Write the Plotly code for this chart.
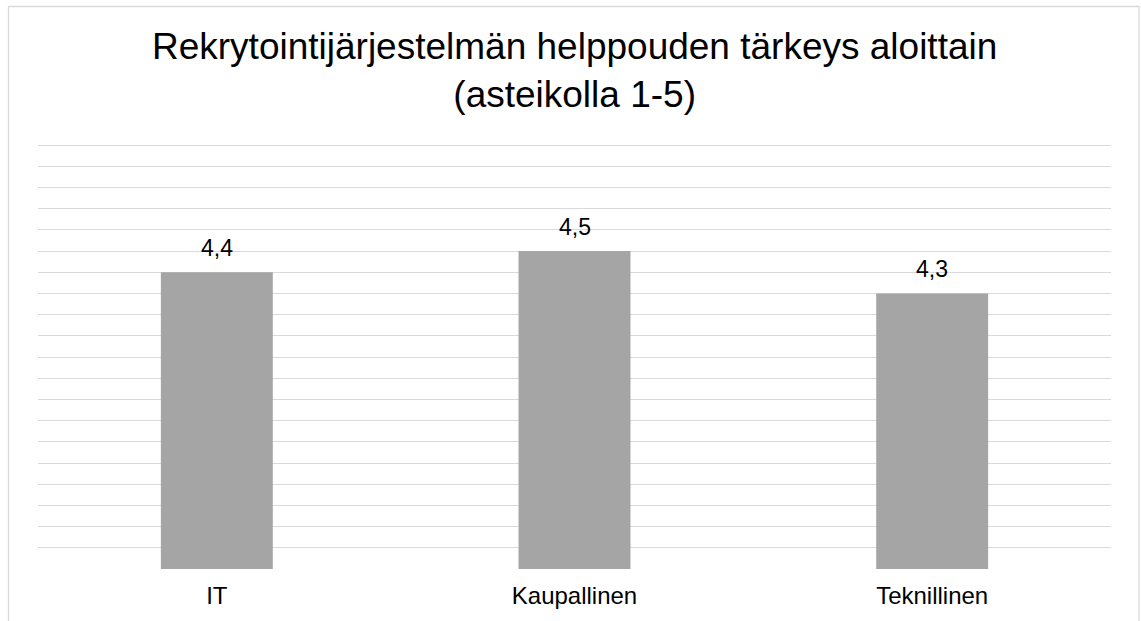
import plotly.graph_objects as go

categories = ["IT", "Kaupallinen", "Teknillinen"]
values = [4.4, 4.5, 4.3]
title_text = "Rekrytointijärjestelmän helppouden tärkeys aloittain<br>(asteikolla 1-5)"

W, H = 1141, 621
L, R, T, B = 38, 30, 143, 52
pw = W - L - R
ph = H - T - B

fig = go.Figure()
fig.add_trace(go.Bar(
    x=categories, y=values,
    marker=dict(color="#A5A5A5", line=dict(width=0)),
    width=0.313,
    hoverinfo="skip",
))

for c, v in zip(categories, values):
    fig.add_annotation(
        x=c, y=v, text=f"{v:.1f}".replace(".", ","),
        showarrow=False, yanchor="bottom", yshift=9,
        font=dict(family="Liberation Sans, Arial", size=23, color="#000000"),
    )

# title as annotation
fig.add_annotation(
    text=title_text, xref="paper", yref="paper",
    x=0.5, xanchor="center", y=(H - B - 24) / ph, yanchor="top",
    showarrow=False, align="center",
    font=dict(family="Liberation Sans, Arial", size=37, color="#000000"),
)

fig.add_shape(
    type="rect", xref="paper", yref="paper",
    x0=(8.5 - L) / pw, x1=(1139 - L) / pw,
    y0=-0.5, y1=(H - B - 6.5) / ph,
    line=dict(color="#D9D9D9", width=1.3), fillcolor="rgba(0,0,0,0)",
    layer="below",
)

fig.update_layout(
    width=W, height=H,
    margin=dict(l=L, r=R, t=T, b=B),
    paper_bgcolor="white", plot_bgcolor="white",
    separators=", ",
    showlegend=False,
    xaxis=dict(
        showgrid=False, showline=False, zeroline=False, ticks="",
        tickfont=dict(family="Liberation Sans, Arial", size=24, color="#000000"),
        ticklabelstandoff=10,
    ),
    yaxis=dict(
        range=[3, 5.01], dtick=0.1, tick0=3,
        showgrid=True, gridcolor="#D9D9D9", gridwidth=1.3,
        showticklabels=False, zeroline=False, showline=False, ticks="",
    ),
)

fig.write_html("out.html")
